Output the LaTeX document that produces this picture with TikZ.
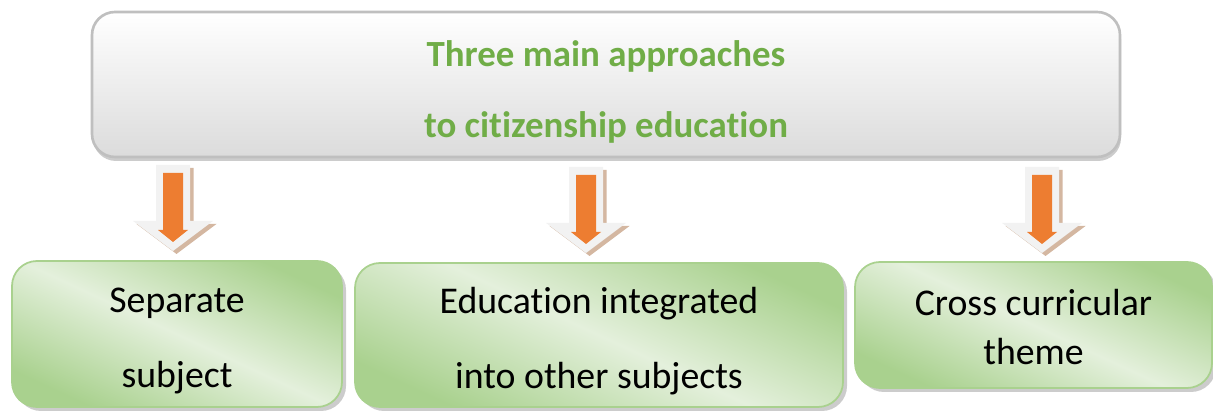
\documentclass[tikz,border=0pt]{standalone}
\usepackage{fontspec}
\setmainfont{Carlito}[Ligatures=NoCommon]
\usetikzlibrary{shapes}
\usetikzlibrary{positioning}
\usetikzlibrary{shadows}
\definecolor{titlegreen}{HTML}{70AD47}
\definecolor{leafdark}{HTML}{A9D18E}
\definecolor{leaflight}{HTML}{E4F0DC}
\definecolor{arroworange}{HTML}{ED7D31}
\definecolor{arrowshade}{HTML}{C9A58A}
\tikzset{
    titlebox/.style = {rectangle, rounded corners=0.46cm, draw=black!25, line width=1.5pt, top color=white, bottom color=black!14, minimum width=20.56cm, minimum height=2.9cm, drop shadow={shadow xshift=0.02cm, shadow yshift=-0.08cm, fill=black!40}},
    titletext/.style = {align=center, text=titlegreen, font=\fontsize{21}{40.5}\selectfont\bfseries},
    leafbox/.style = {rectangle, rounded corners=0.5cm, draw=leafdark, line width=1pt, top color=leafdark, bottom color=leafdark, middle color=leaflight, shading angle=-25, drop shadow={shadow xshift=0.08cm, shadow yshift=-0.08cm, fill=black!40}},
    leaftext/.style = {align=center, font=\fontsize{21.5}{43}\selectfont},
    blockout/.style = {fill=black!5},
    blockshadow/.style = {fill=arrowshade, opacity=0.8},
    blockin/.style = {fill=arroworange},
    downarrow/.pic = {
      \fill[blockshadow, shift={(0.07,-0.06)}] (-0.34,0) -- (0.34,0) -- (0.34,-1.12) -- (0.8,-1.12) -- (0,-1.72) -- (-0.8,-1.12) -- (-0.34,-1.12) -- cycle;
      \fill[blockout] (-0.34,0) -- (0.34,0) -- (0.34,-1.12) -- (0.8,-1.12) -- (0,-1.72) -- (-0.8,-1.12) -- (-0.34,-1.12) -- cycle;
      \fill[blockin] (-0.2,-0.16) -- (0.2,-0.16) -- (0.2,-1.3) -- (0.3,-1.3) -- (0,-1.54) -- (-0.3,-1.3) -- (-0.2,-1.3) -- cycle;
    }
}

\begin{document}
\begin{tikzpicture}
  \useasboundingbox (0,0) rectangle (24.26,-8.24);

  \node[titlebox] (title) at (12.12,-1.69) {};
  \node[titletext] (titlelines) at ([yshift=-0.15cm]title.center) {Three main approaches\\to citizenship education};

  \node[leafbox, minimum width=6.6cm, minimum height=2.92cm] (sep) at (3.54,-6.68) {};
  \node[leafbox, minimum width=9.76cm, minimum height=2.88cm] (integ) at (11.98,-6.70) {};
  \node[leafbox, minimum width=7.14cm, minimum height=2.52cm] (cross) at (20.67,-6.5) {};

  \node[leaftext] (septext) at ([yshift=-0.14cm]sep.center) {Separate\\subject};
  \node[leaftext] (integtext) at ([yshift=-0.12cm]integ.center) {Education integrated\\into other subjects};
  \node[leaftext, font=\fontsize{21.5}{27.5}\selectfont] (crosstext) at ([yshift=-0.04cm]cross.center) {Cross curricular\\theme};

  % arrows
  \pic at (3.46,-3.30) {downarrow};
  \pic at (11.72,-3.34) {downarrow};
  \pic at (20.84,-3.34) {downarrow};

\end{tikzpicture}
\end{document}
